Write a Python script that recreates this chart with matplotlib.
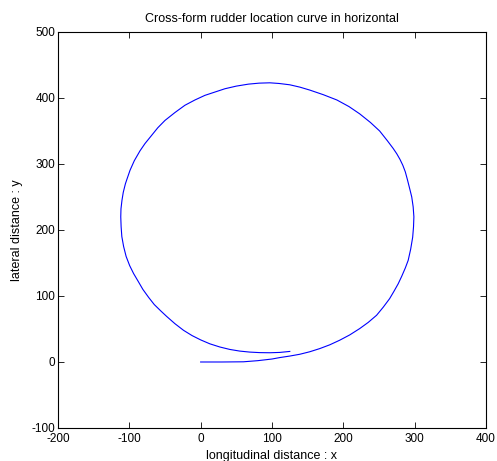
import matplotlib
matplotlib.use('Agg')
import matplotlib.pyplot as plt

# rudder trajectory
x_dist = [0, 30, 60, 80, 100, 111, 125, 139, 153, 167, 181, 195, 209, 223,
          235, 246.7, 256, 265, 271, 277, 282, 287, 291, 294.5, 297.3, 298.5,
          299, 298, 296, 293.5, 290, 287, 283.5, 279.5, 275, 270, 262, 251,
          238, 223, 208, 191, 172, 153, 139, 125, 110, 97, 82, 67, 50, 34, 20,
          6, -8, -22, -36, -50, -60, -69, -78, -85, -93, -99, -103, -105.5,
          -108.5, -110.3, -111.7, -112, -111.5, -110.5, -108, -104.5, -99.5,
          -94, -88, -81, -73, -65, -56, -47.6, -36, -24, -12, 0, 13, 27, 41,
          55, 69, 83, 97, 111, 125]
y_dist = [0, 0, 0.3, 2, 4.5, 6.7, 9, 11.7, 15.5, 20.3, 26, 33, 41, 50.6,
          60, 70.8, 83, 96, 107, 118.5, 130, 142.5, 154, 171, 189, 205,
          220, 235, 250, 261, 276, 288, 298, 307, 315.5, 323.5, 335, 350,
          363, 376, 387, 397, 405, 412, 416.5, 420, 422, 423, 422.5, 421, 418,
          414, 409, 404, 397, 389, 378, 366, 355, 343, 331, 320, 305, 290.5,
          278, 270, 257, 245, 232, 220, 205, 190, 175, 160, 146,
          134, 123, 110, 98, 87, 77.5, 69, 58, 48, 40, 33.5, 27.5, 22.7, 19,
          16.5, 15, 14.2, 14, 14.5, 16]

plt.rcParams['font.family'] = ['Liberation Sans', 'DejaVu Sans']
plt.rcParams['axes.unicode_minus'] = False

fig = plt.figure(figsize=(4.97, 4.61), dpi=100)
ax = fig.add_axes([0.1167, 0.0716, 0.861, 0.859])
ax.plot(x_dist, y_dist, color='#0000ff', linewidth=0.8)

ax.set_xlim(-200, 400)
ax.set_ylim(-100, 500)
ax.set_xticks(range(-200, 401, 100))
ax.set_yticks(range(-100, 501, 100))
ax.tick_params(direction='in', top=True, right=True, labelsize=8.5,
               length=4, width=0.6, pad=2)
ax.tick_params(axis='x', pad=3.5)
for s in ax.spines.values():
    s.set_linewidth(0.8)

ax.set_title('Cross-form rudder location curve in horizontal', fontsize=9, pad=7)
ax.set_xlabel('longitudinal distance : x', fontsize=9, labelpad=4)
ax.set_ylabel('lateral distance : y', fontsize=9, labelpad=6)

fig.savefig('out.png', dpi=100)
